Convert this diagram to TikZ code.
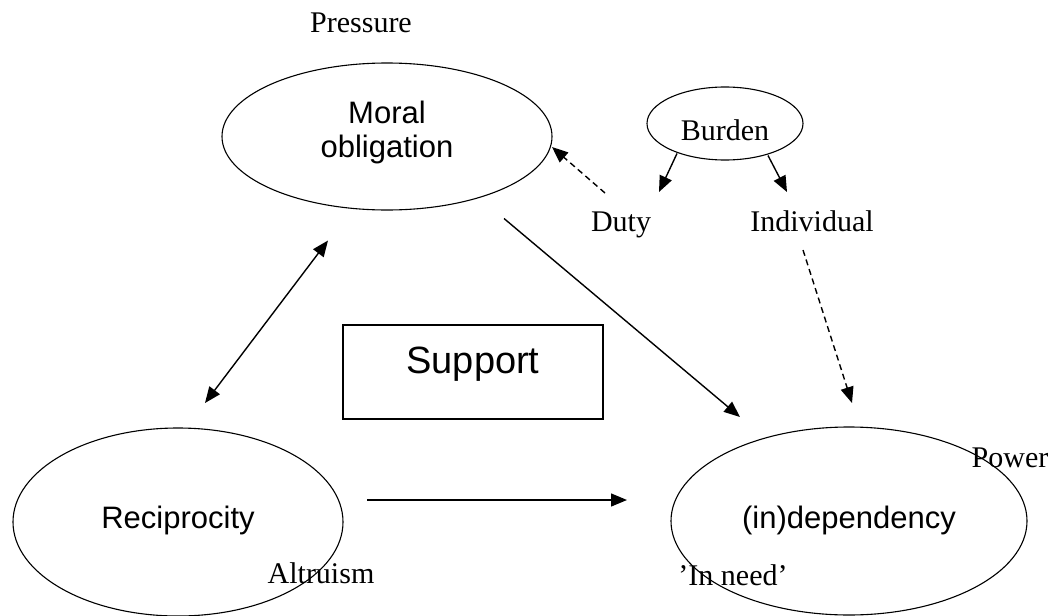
\documentclass[tikz,border=0pt]{standalone}
\usepackage{fontspec}
\setmainfont{Liberation Serif}
\newfontfamily\arialfont{Liberation Sans}
\usetikzlibrary{shapes.geometric,arrows.meta,calc}
\begin{document}
\begin{tikzpicture}[x=1pt,y=-1pt,
  oval/.style={draw,ellipse,line width=1.1pt,inner sep=0pt},
  sans/.style={font=\arialfont\fontsize{31}{34}\selectfont},
  serif/.style={font=\fontsize{30}{34}\selectfont},
  lbl/.style={serif,inner sep=0pt,anchor=base},
  arr/.style={line width=1.4pt,-{Triangle[length=16pt,width=13pt]}},
  dbl/.style={line width=1.4pt,{Triangle[length=16pt,width=13pt]}-{Triangle[length=16pt,width=13pt]}},
  dsh/.style={dash pattern=on 6pt off 4pt}
]
\useasboundingbox (0,0) rectangle (1058,616);

% ellipses
\node[oval,sans,align=center,minimum width=330pt,minimum height=147pt] (mo) at (387,136.5)
  {Moral\\obligation\rule[-14pt]{0pt}{14pt}};
\node[oval,sans,minimum width=330pt,minimum height=188pt,text height=12pt,text depth=0pt] (rec) at (178,522) {Reciprocity};
\node[oval,sans,minimum width=356pt,minimum height=188pt,text height=14pt,text depth=0pt] (ind) at (849,521) {(in)dependency};
\node[oval,serif,minimum width=156pt,minimum height=73pt,text height=33pt,text depth=0pt] (bur) at (725,123.5) {Burden};

% support box
\node[draw,line width=1.1pt,inner sep=0pt,minimum width=260pt,minimum height=94pt,
      font=\arialfont\fontsize{38}{40}\selectfont,text height=20pt,text depth=18pt] (sup) at (473,372) {Support};

% free labels
\node[lbl] (pres) at (361,32) {Pressure};
\node[lbl] (duty) at (621,231) {Duty};
\node[lbl] (indiv) at (812,231) {Individual};
\node[lbl] (pow) at (1010,467) {Power};
\node[lbl] (need) at (733,585) {’In need’};
\node[lbl] (alt) at (321,583) {Altruism};

% connectors
\draw[arr] ($(mo)+(117,82)$) -- ($(ind)+(-109,-104)$);
\draw[dbl] ($(mo)+(-59,104)$) -- ($(rec)+(27,-119)$);
\draw[arr] ($(rec)+(189,-22)$) -- ($(ind)+(-222,-21)$);
\draw[arr,dsh] ($(duty.base)+(-16,-38)$) -- ($(mo)+(165,10.5)$);
\draw[arr] ($(bur)+(-48,30)$) -- ($(duty.base)+(38,-39)$);
\draw[arr] ($(bur)+(43,32)$) -- ($(indiv.base)+(-25,-39)$);
\draw[arr,dsh] ($(indiv.base)+(-9,19)$) -- ($(ind)+(3,-118)$);
\end{tikzpicture}
\end{document}
